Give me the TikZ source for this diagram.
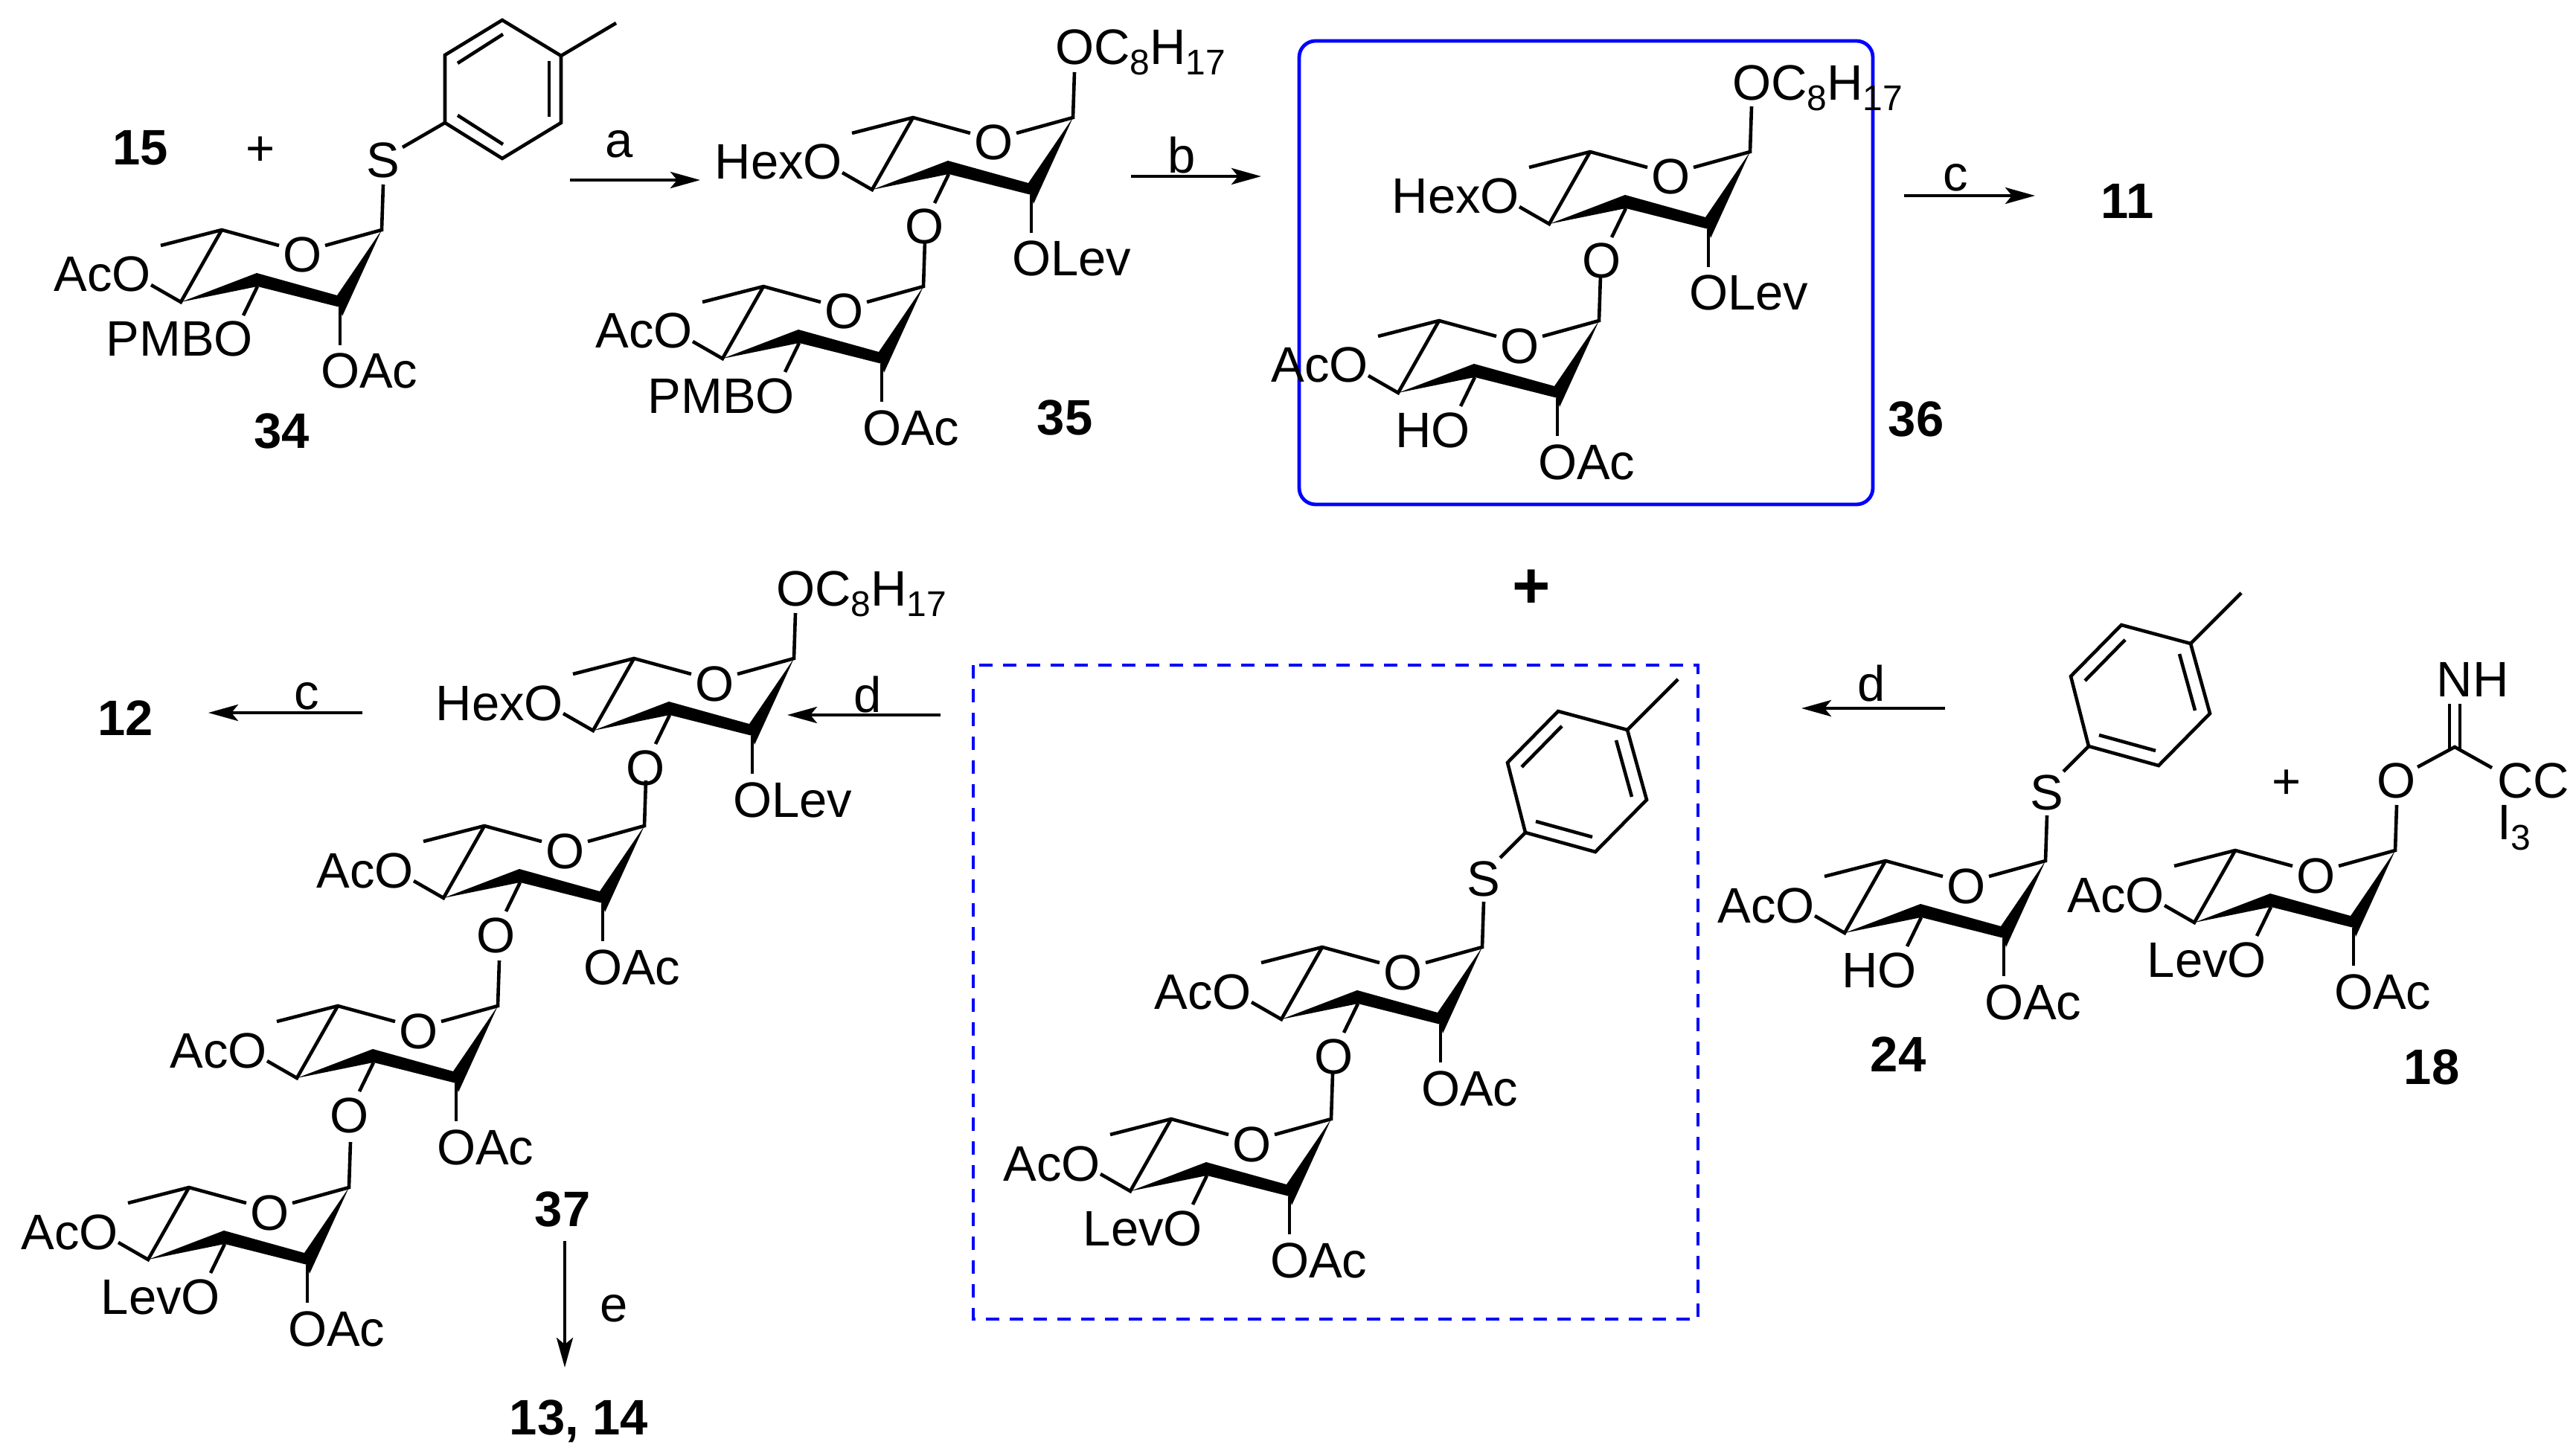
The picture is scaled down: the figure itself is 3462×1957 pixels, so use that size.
\documentclass[tikz,border=0pt]{standalone}
\usepackage{fontspec}
\setmainfont{Liberation Sans}
\usetikzlibrary{arrows.meta}
\newcommand{\lowsub}[1]{\raisebox{-7pt}{\fontsize{24}{24}\selectfont #1}}
\tikzset{
  x=0.5pt,y=-0.5pt,
  bond/.style={draw=black,line width=2.3pt,line join=miter},
  wedge/.style={fill=black,draw=none},
  atom/.style={inner sep=0pt,outer sep=0pt,font=\fontsize{33.5}{40}\selectfont,anchor=base},
  atomr/.style={atom,anchor=base east},
  atoml/.style={atom,anchor=base west},
  cmpd/.style={inner sep=0pt,outer sep=0pt,font=\fontsize{33.5}{40}\selectfont\bfseries,anchor=base},
  rxn/.style={line width=2.2pt,-{Stealth[length=20pt,width=11pt,inset=4.5pt]}},
  box/.style={draw={rgb,255:red,0;green,0;blue,255},line width=2.4pt}
}
% name, x, y, left label, lower label, right label
\newcommand{\sugar}[6]{%
\begin{scope}[shift={(#2,#3)}]
  \coordinate (#1c1) at (0,0);
  \coordinate (#1c5) at (-215,0);
  \coordinate (#1me) at (-297,21);
  \coordinate (#1oa) at (-138,21);
  \coordinate (#1ob) at (-76,21);
  \coordinate (#1c4) at (-270,97);
  \coordinate (#1c3) at (-167,76);
  \coordinate (#1c2) at (-56,104);
  \coordinate (#1up) at (2,-61);
  \coordinate (#1la) at (-310,74);
  \coordinate (#1ma) at (-186,115);
  \coordinate (#1ra) at (-56,155);
  \fill[wedge] (#1c4) -- (-168,58) -- (-60,88) -- (#1c1) -- (-53,116) -- (#1c2) -- (#1c3) -- cycle;
  \draw[bond] (#1me) -- (#1c5) -- (#1oa);
  \draw[bond] (#1ob) -- (#1c1) -- (#1up);
  \draw[bond] (#1c5) -- (#1c4) -- (#1la);
  \draw[bond] (#1c3) -- (#1ma);
  \draw[bond] (#1c2) -- (#1ra);
  \node[atom] (#1o) at (-106,57) {O};
  \node[atomr] (#1l) at (-310,83) {#4};
  \node[atomr] (#1m) at (-173,170) {#5};
  \node[atoml] (#1r) at (-82,213) {#6};
\end{scope}}
% aryl upright
\newcommand{\arylA}[3]{%
\begin{scope}[shift={(#2,#3)}]
  \node[atom] (#1s) at (2,-70) {S};
  \coordinate (#1b) at (28,-111);
  \coordinate (#1a1) at (85,-144);
  \coordinate (#1a2) at (85,-235);
  \coordinate (#1a3) at (162,-282);
  \coordinate (#1a4) at (241,-234);
  \coordinate (#1a5) at (241,-144);
  \coordinate (#1a6) at (162,-96);
  \coordinate (#1me) at (315,-278);
  \draw[bond] (#1b) -- (#1a1);
  \draw[bond] (#1a1) -- (#1a2) -- (#1a3) -- (#1a4) -- (#1a5) -- (#1a6) -- cycle;
  \draw[bond] (#1a4) -- (#1me);
  \draw[bond] (102,-224) -- (163,-263);
  \draw[bond] (225,-227) -- (225,-152);
  \draw[bond] (102,-154) -- (163,-115);
\end{scope}}
% aryl tilted
\newcommand{\arylB}[3]{%
\begin{scope}[shift={(#2,#3)}]
  \node[atom] (#1s) at (2,-69) {S};
  \coordinate (#1b) at (24,-120);
  \coordinate (#1a1) at (58,-154);
  \coordinate (#1a2) at (34,-248);
  \coordinate (#1a3) at (102,-317);
  \coordinate (#1a4) at (195,-292);
  \coordinate (#1a5) at (221,-198);
  \coordinate (#1a6) at (152,-128);
  \coordinate (#1me) at (263,-360);
  \draw[bond] (#1b) -- (#1a1);
  \draw[bond] (#1a1) -- (#1a2) -- (#1a3) -- (#1a4) -- (#1a5) -- (#1a6) -- cycle;
  \draw[bond] (#1a4) -- (#1me);
  \draw[bond] (53,-242) -- (107,-297);
  \draw[bond] (180,-278) -- (201,-202);
  \draw[bond] (72,-169) -- (148,-148);
\end{scope}}
\begin{document}
\begin{tikzpicture}
\useasboundingbox (0,0) rectangle (3462,1957);
% boxes
\draw[box,rounded corners=11pt] (1746,55) rectangle (2517,678);
\draw[box,dash pattern=on 9pt off 7pt] (1308,894) rectangle (2282,1773);
% 34
\sugar{ra}{513}{309}{AcO}{PMBO}{OAc}
\arylA{aa}{513}{309}
% 35
\sugar{rb}{1442}{158}{HexO}{O}{OLev}
\node[atoml] (rbt) at (1418,87) {OC\lowsub{8}H\lowsub{17}};
\sugar{rc}{1241}{385}{AcO}{PMBO}{OAc}
% 36
\sugar{rd}{2352}{204}{HexO}{O}{OLev}
\node[atoml] (rdt) at (2328,135) {OC\lowsub{8}H\lowsub{17}};
\sugar{re}{2149}{431}{AcO}{HO}{OAc}
% 37
\sugar{rf}{1067}{885}{HexO}{O}{OLev}
\node[atoml] (rft) at (1043,814) {OC\lowsub{8}H\lowsub{17}};
\sugar{rg}{866}{1110}{AcO}{O}{OAc}
\sugar{rh}{669}{1352}{AcO}{O}{OAc}
\sugar{ri}{469}{1596}{AcO}{LevO}{OAc}
% central disaccharide
\sugar{rj}{1992}{1273}{AcO}{O}{OAc}
\arylB{ab}{1992}{1273}
\sugar{rk}{1789}{1504}{AcO}{LevO}{OAc}
% 24
\sugar{rl}{2749}{1157}{AcO}{HO}{OAc}
\arylB{ac}{2749}{1157}
% 18
\sugar{rm}{3219}{1143}{AcO}{LevO}{OAc}
\node[atom] (imo) at (3221,1072) {O};
\coordinate (imc) at (3299,1004);
\coordinate (imoe) at (3249,1031);
\coordinate (imcl) at (3349,1032);
\coordinate (imna) at (3292,946);
\coordinate (imnb) at (3306,946);
\draw[bond] (imoe) -- (imc) -- (imcl);
\draw[bond] (3292,1006) -- (imna);
\draw[bond] (3306,1006) -- (imnb);
\node[atom] (imn) at (3323,936) {NH};
\node[atoml] (imcc) at (3356,1072) {CC};
\node[atoml] (imi) at (3356,1128) {I\lowsub{3}};
% compound numbers and plus signs
\node[cmpd] (n15) at (189,222) {15};
\node[atom] (p1) at (350,223) {+};
\node[cmpd] (n34) at (379,602) {34};
\node[cmpd] (n35) at (1431,584) {35};
\node[cmpd] (n36) at (2575,586) {36};
\node[cmpd] (n11) at (2859,294) {11};
\node[cmpd] (n12) at (169,988) {12};
\node[cmpd] (n37) at (756,1648) {37};
\node[cmpd] (n1314) at (778,1928) {13, 14};
\node[cmpd] (n24) at (2551,1440) {24};
\node[cmpd] (n18) at (3268,1457) {18};
\node[cmpd,font=\fontsize{44}{50}\selectfont\bfseries] (p2) at (2058,817) {+};
\node[atom] (p3) at (3073,1073) {+};
% arrows
\coordinate (aa1) at (766,242); \coordinate (aa2) at (941,242);
\coordinate (ab1) at (1520,237); \coordinate (ab2) at (1695,237);
\coordinate (ac1) at (2559,263); \coordinate (ac2) at (2735,263);
\coordinate (ad1) at (2614,952); \coordinate (ad2) at (2421,952);
\coordinate (ae1) at (1264,961); \coordinate (ae2) at (1058,961);
\coordinate (af1) at (487,958); \coordinate (af2) at (280,958);
\coordinate (ag1) at (759,1668); \coordinate (ag2) at (759,1838);
\draw[rxn] (aa1) -- (aa2);
\draw[rxn] (ab1) -- (ab2);
\draw[rxn] (ac1) -- (ac2);
\draw[rxn] (ad1) -- (ad2);
\draw[rxn] (ae1) -- (ae2);
\draw[rxn] (af1) -- (af2);
\draw[rxn] (ag1) -- (ag2);
\node[atom] (la) at (832,212) {a};
\node[atom] (lb) at (1588,233) {b};
\node[atom] (lc) at (2628,257) {c};
\node[atom] (ld) at (2515,942) {d};
\node[atom] (le) at (1166,957) {d};
\node[atom] (lf) at (412,953) {c};
\node[atom] (lg) at (825,1776) {e};
\end{tikzpicture}
\end{document}
